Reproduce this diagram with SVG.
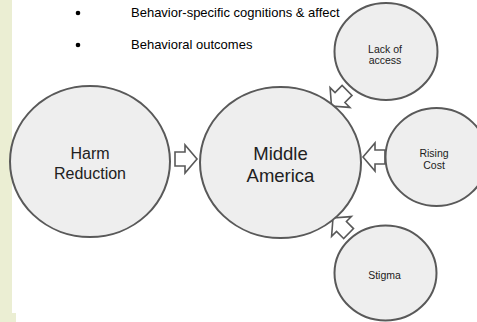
<svg xmlns="http://www.w3.org/2000/svg" width="477" height="322" viewBox="0 0 477 322">
<style>
.bg{fill:#ffffff}
.strip{fill:#ebeed3}
.node{fill:#eeeeee;stroke:#595959;stroke-width:2}
.arrow{fill:#ffffff;stroke:#595959;stroke-width:1.6;stroke-linejoin:miter}
text{font-family:"Liberation Sans",Arial,sans-serif;fill:#212121;text-anchor:middle}
.bullet-text{font-size:13px;fill:#000000;text-anchor:start}
.big{font-size:18.5px}
.mid{font-size:16px}
.small{font-size:10.5px}
</style>
<defs>
<path id="blockArrow" d="M-22,-7 L-12,-7 L-12,-14 L0,0 L-12,14 L-12,7 L-22,7 Z"/>
</defs>
<rect class="bg" x="0" y="0" width="477" height="322"/>
<rect class="strip" x="0" y="0" width="12" height="322"/>
<rect class="strip" x="0" y="313" width="16" height="9"/>

<g id="bullets">
<circle cx="78" cy="13" r="2.3" fill="#000"/>
<text class="bullet-text" x="131" y="17">Behavior-specific cognitions &amp; affect</text>
<circle cx="78" cy="45" r="2.3" fill="#000"/>
<text class="bullet-text" x="131" y="49">Behavioral outcomes</text>
</g>

<g id="connectors">
<use href="#blockArrow" class="arrow" transform="translate(197,159)"/>
<use href="#blockArrow" class="arrow" transform="translate(363,157) rotate(180)"/>
<use href="#blockArrow" class="arrow" transform="translate(331.5,106) rotate(135)"/>
<use href="#blockArrow" class="arrow" transform="translate(333,218) rotate(225)"/>
</g>

<g id="harm-reduction">
<ellipse class="node" cx="90" cy="161.5" rx="80" ry="75.5"/>
<text class="mid" x="90" y="159">Harm</text>
<text class="mid" x="90" y="179">Reduction</text>
</g>

<g id="middle-america">
<ellipse class="node" cx="280.5" cy="162.5" rx="80.5" ry="75.5"/>
<text class="big" x="280.5" y="160">Middle</text>
<text class="big" x="280.5" y="182">America</text>
</g>

<g id="lack-of-access">
<ellipse class="node" cx="386" cy="51.5" rx="51.5" ry="48.5"/>
<text class="small" x="385" y="52.5">Lack of</text>
<text class="small" x="385" y="64">access</text>
</g>

<g id="rising-cost">
<ellipse class="node" cx="436.5" cy="157" rx="51" ry="49"/>
<text class="small" x="434" y="157">Rising</text>
<text class="small" x="434" y="168.5">Cost</text>
</g>

<g id="stigma">
<ellipse class="node" cx="385.5" cy="273" rx="51" ry="47.5"/>
<text class="small" x="384.5" y="279">Stigma</text>
</g>
</svg>
